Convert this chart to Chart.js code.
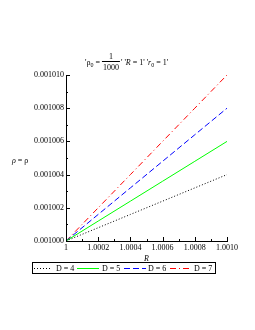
<!DOCTYPE html>
<html>
<head>
<meta charset="utf-8">
<script src="https://cdn.jsdelivr.net/npm/chart.js@4"></script>
<style>
  html, body { margin: 0; padding: 0; background: #fff; }
  #wrap { width: 255px; height: 330px; }
</style>
</head>
<body>
<div id="wrap"><canvas id="rho" width="255" height="330"></canvas></div>
<script>
// values
var rValues = [1, 1.0002, 1.0004, 1.0006, 1.0008, 1.001];
var d4 = [0.001, 0.0010008, 0.0010016, 0.0010024, 0.0010032, 0.001004];
var d5 = [0.001, 0.0010012, 0.0010024, 0.0010036, 0.0010048, 0.001006];
var d6 = [0.001, 0.0010016, 0.0010032, 0.0010048, 0.0010064, 0.001008];
var d7 = [0.001, 0.001002, 0.001004, 0.001006, 0.001008, 0.00101];
var labels = ["D = 4", "D = 5", "D = 6", "D = 7"];
var colors = ["#000000", "#00ff00", "#0000ff", "#ff0000"];
var dashes = [[1, 2], [], [6, 3], [6, 3, 1, 3]];

var FONT = '"Liberation Serif", "DejaVu Serif", serif';

function pts(ys) {
  return rValues.map((x, i) => ({ x: x, y: ys[i] }));
}

var series = [d4, d5, d6, d7];
var datasets = series.map((ys, i) => ({
  label: labels[i],
  data: pts(ys),
  borderColor: colors[i],
  borderWidth: 1,
  borderDash: dashes[i],
  pointRadius: 0,
  tension: 0,
  fill: false
}));

// inward ticks, title, axis label and legend box like the original plot
var decor = {
  id: "decor",
  afterDraw(chart) {
    const ctx = chart.ctx;
    const xs = chart.scales.x, ys = chart.scales.y;
    const area = chart.chartArea;
    ctx.save();
    ctx.strokeStyle = "#000";
    ctx.lineWidth = 1;
    ctx.beginPath();
    xs.ticks.forEach((t, i) => {
      const px = Math.round(xs.getPixelForValue(t.value)) + 0.5;
      ctx.moveTo(px, area.bottom); ctx.lineTo(px, area.bottom - 4);
      if (i < xs.ticks.length - 1) {
        const mx = Math.round(xs.getPixelForValue(t.value + 0.0001)) + 0.5;
        ctx.moveTo(mx, area.bottom); ctx.lineTo(mx, area.bottom - 2);
      }
    });
    ys.ticks.forEach((t, i) => {
      const py = Math.round(ys.getPixelForValue(t.value)) + 0.5;
      ctx.moveTo(area.left, py); ctx.lineTo(area.left + 4, py);
      if (i < ys.ticks.length - 1) {
        const my = Math.round(ys.getPixelForValue(t.value + 0.000001)) + 0.5;
        ctx.moveTo(area.left, my); ctx.lineTo(area.left + 2, my);
      }
    });
    ctx.stroke();

    // title
    ctx.fillStyle = "#000";
    ctx.textBaseline = "alphabetic";
    let x = 85;
    const base = 65;
    const norm = "8px " + FONT, ital = "italic 8px " + FONT, sub = "6px " + FONT;
    function put(txt, font, dy) {
      ctx.font = font;
      ctx.fillText(txt, x, base + (dy || 0));
      x += ctx.measureText(txt).width;
    }
    put("'ρ", norm);
    put("0", sub, 2);
    put(" = ", norm);
    ctx.font = norm;
    const fw = ctx.measureText("1000").width;
    ctx.textAlign = "center";
    ctx.fillText("1", x + fw / 2 + 1, base - 6);
    ctx.fillText("1000", x + fw / 2 + 1, base + 5);
    ctx.beginPath();
    ctx.moveTo(x, base - 3.5); ctx.lineTo(x + fw + 2, base - 3.5);
    ctx.stroke();
    ctx.textAlign = "left";
    x += fw + 3;
    put("' '", norm);
    put("R", ital);
    put(" = 1' '", norm);
    put("r", ital);
    put("0", sub, 2);
    put(" = 1'", norm);

    // y label
    x = 12;
    const yb = 163;
    ctx.font = ital;
    ctx.fillText("ρ", x, yb);
    x += ctx.measureText("ρ").width;
    ctx.font = norm;
    ctx.fillText(" = ρ", x, yb);

    // x label
    ctx.font = ital;
    ctx.textAlign = "center";
    ctx.fillText("R", (area.left + area.right) / 2, 261);
    ctx.textAlign = "left";

    // legend
    ctx.strokeRect(32.5, 262.5, 183, 11);
    const sampleX = [[34, 50], [77, 99], [124, 146], [170, 191]];
    const textX = [56, 102, 148, 194];
    chart.data.datasets.forEach((ds, i) => {
      ctx.beginPath();
      ctx.strokeStyle = ds.borderColor;
      ctx.setLineDash(ds.borderDash);
      ctx.moveTo(sampleX[i][0], 268.5); ctx.lineTo(sampleX[i][1], 268.5);
      ctx.stroke();
      ctx.setLineDash([]);
      ctx.font = norm;
      ctx.fillStyle = "#000";
      ctx.fillText(ds.label, textX[i], 271);
    });
    ctx.restore();
  }
};

new Chart("rho", {
  type: "line",
  data: { datasets: datasets },
  options: {
    responsive: false,
    animation: false,
    layout: { padding: { left: 0, top: 75, right: 28, bottom: 0 } },
    plugins: { legend: { display: false }, title: { display: false }, tooltip: { enabled: false } },
    scales: {
      x: {
        type: "linear",
        min: 1,
        max: 1.001,
        afterFit: (s) => { s.height = 89; },
        afterBuildTicks: (s) => { s.ticks = rValues.map(v => ({ value: v })); },
        ticks: {
          font: { family: FONT, size: 8 },
          color: "#000",
          padding: 2,
          maxRotation: 0,
          autoSkip: false,
          callback: (v) => v === 1 ? "1" : Number(v).toFixed(4)
        },
        grid: { drawOnChartArea: false, drawTicks: false },
        border: { color: "#000" }
      },
      y: {
        min: 0.001,
        max: 0.00101,
        afterFit: (s) => { s.width = 66; },
        afterBuildTicks: (s) => { s.ticks = [0.001, 0.001002, 0.001004, 0.001006, 0.001008, 0.00101].map(v => ({ value: v })); },
        ticks: {
          font: { family: FONT, size: 8 },
          color: "#000",
          padding: 2,
          autoSkip: false,
          callback: (v) => Number(v).toFixed(6)
        },
        grid: { drawOnChartArea: false, drawTicks: false },
        border: { color: "#000" }
      }
    }
  },
  plugins: [decor]
});
</script>
</body>
</html>
